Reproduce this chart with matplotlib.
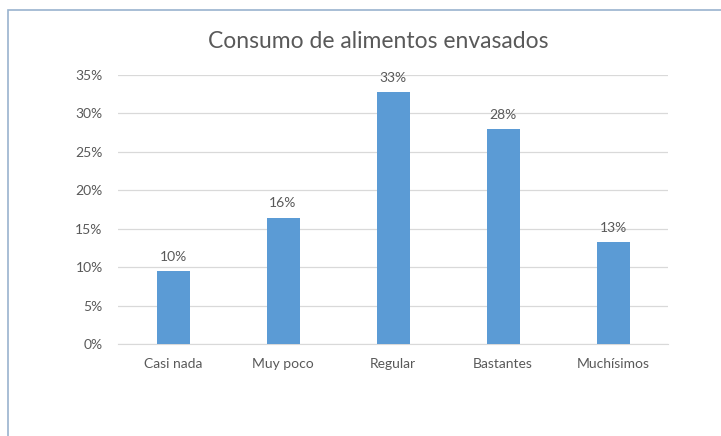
import matplotlib
matplotlib.use("Agg")
import matplotlib.pyplot as plt
from matplotlib.ticker import PercentFormatter
from matplotlib.patches import Rectangle

categories = ["Casi nada", "Muy poco", "Regular", "Bastantes", "Muchísimos"]
values = [9.5, 16.4, 32.7, 27.9, 13.2]
labels = ["10%", "16%", "33%", "28%", "13%"]
yticks = [0, 5, 10, 15, 20, 25, 30, 35]

plt.rcParams['font.family'] = ['Lato', 'DejaVu Sans']
text_color = "#595959"

fig = plt.figure(figsize=(7.21, 4.36), dpi=100)
fig.patch.set_facecolor("white")

# outer chart border
fig.patches.append(Rectangle((8/721, -0.1), 1.2, 1 - 10/436 + 0.1, transform=fig.transFigure,
                             fill=False, edgecolor="#9AB3CE", linewidth=1.2))

ax = fig.add_axes([118/721, 1 - 344/436, 550/721, (344 - 74.7)/436])
x = range(len(categories))
bars = ax.bar(x, values, width=0.3, color="#5B9BD5", zorder=3)
for xi, v, lab in zip(x, values, labels):
    ax.annotate(lab, (xi, v), xytext=(0, 6), textcoords="offset points",
                ha="center", va="bottom", fontsize=10, color=text_color)

ax.set_xlim(-0.5, 4.5)
ax.set_ylim(0, 35)
ax.set_yticks(yticks)
ax.yaxis.set_major_formatter(PercentFormatter(decimals=0))
ax.set_xticks(list(x))
ax.set_xticklabels(categories)
ax.tick_params(axis="both", length=0, labelsize=10, colors=text_color)
ax.tick_params(axis="y", pad=11)
ax.tick_params(axis="x", pad=10)
ax.grid(axis="y", color="#D9D9D9", linewidth=0.9, zorder=0)
for s in ["top", "right", "left"]:
    ax.spines[s].set_visible(False)
ax.spines["bottom"].set_color("#D9D9D9")
ax.set_facecolor("white")

fig.text(378/721, 1 - 42/436, "Consumo de alimentos envasados", ha="center", va="center",
         fontsize=16.5, color=text_color)

fig.savefig("out.png", dpi=100)
